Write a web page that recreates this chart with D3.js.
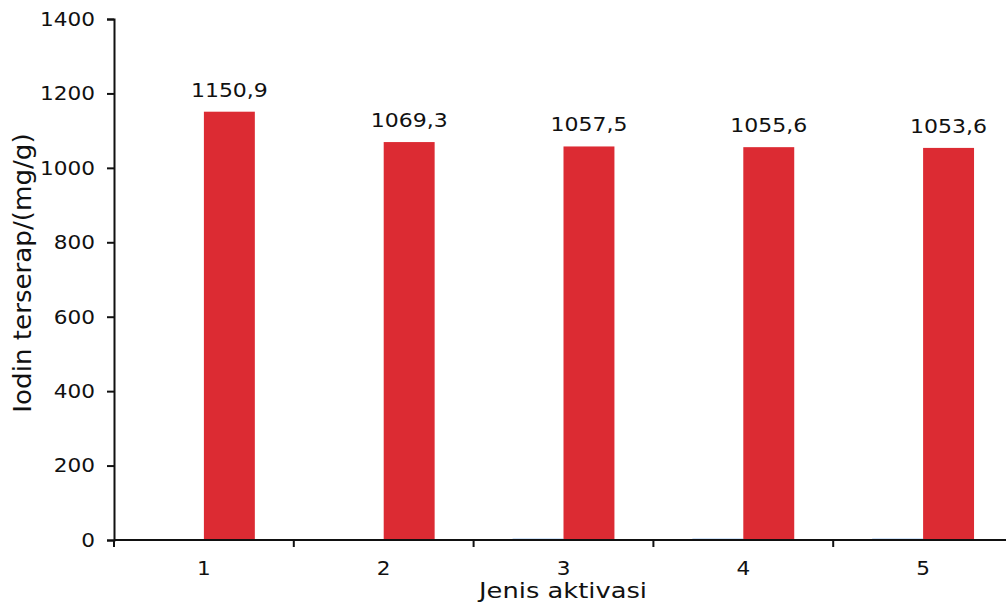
<!DOCTYPE html>
<html>
<head>
<meta charset="utf-8">
<script src="https://cdn.jsdelivr.net/npm/d3@7/dist/d3.min.js"></script>
<style>
  html, body { margin: 0; padding: 0; background: #fff; }
  svg { display: block; }
  text { font-family: "DejaVu Sans", Verdana, sans-serif; fill: #111; }
</style>
</head>
<body>
<svg id="chart" width="1006" height="605"></svg>
<script>
// Iodine adsorption per activation type
const categories = ["1", "2", "3", "4", "5"];
const seriesNames = ["awal", "terserap"];
const seriesA = [0, 0, 4, 4, 4];               // small companion series (near zero)
const seriesB = [1150.9, 1069.3, 1057.5, 1055.6, 1053.6];
const valueLabels = ["1150,9", "1069,3", "1057,5", "1055,6", "1053,6"];
const yTicks = [0, 200, 400, 600, 800, 1000, 1200, 1400];

const colors = { awal: "#9fc4ee", terserap: "#dc2b33" };

const svg = d3.select("#chart");
const plotLeft = 114, plotTop = 19, plotBottom = 540, plotRight = 1013;

const x = d3.scaleBand().domain(categories).range([plotLeft, plotRight]).padding(0);
const inner = d3.scaleBand().domain(seriesNames).range([0, x.bandwidth()])
  .paddingInner(0).paddingOuter(0.765);
const y = d3.scaleLinear().domain([0, 1400]).range([plotBottom, plotTop]);

const rows = categories.map((c, i) => ({ c, awal: seriesA[i], terserap: seriesB[i], label: valueLabels[i] }));

// wide-set text: place at (px, py) and stretch horizontally
function wideText(sel, px, py, sx) {
  return sel.attr("x", 0).attr("y", 0)
    .attr("transform", (d, i) => `translate(${px(d, i)},${py(d, i)}) scale(${sx},1)`);
}

// bars
const g = svg.append("g");
rows.forEach(r => {
  seriesNames.forEach(s => {
    if (r[s] <= 0) return;
    g.append("rect")
      .attr("x", x(r.c) + inner(s))
      .attr("y", y(r[s]))
      .attr("width", inner.bandwidth())
      .attr("height", y(0) - y(r[s]))
      .attr("fill", colors[s]);
  });
});

// value labels above the red bars
wideText(
  g.selectAll("text.val").data(rows).join("text").attr("class", "val")
    .attr("text-anchor", "middle").attr("font-size", 20).text(d => d.label),
  d => x(d.c) + inner("terserap") + inner.bandwidth() / 2,
  d => y(d.terserap) - 15,
  1.1);

// y axis
const yAxis = svg.append("g").attr("transform", `translate(${plotLeft},0)`)
  .call(d3.axisLeft(y).tickValues(yTicks).tickSize(7).tickPadding(9).tickFormat(d3.format("d")));
yAxis.selectAll("text")
  .attr("font-size", 20).attr("font-family", "DejaVu Sans, Verdana, sans-serif").attr("fill", "#111")
  .attr("x", -19 / 1.08).attr("transform", "scale(1.08,1)");
yAxis.select(".domain").attr("stroke", "#111").attr("stroke-width", 2);
yAxis.selectAll(".tick line").attr("stroke", "#111").attr("stroke-width", 2);

// x axis: line with ticks at category boundaries
const xg = svg.append("g").attr("transform", `translate(0,${plotBottom})`);
xg.append("line").attr("x1", plotLeft).attr("x2", 1006).attr("stroke", "#111").attr("stroke-width", 2);
xg.selectAll("line.tk").data(categories).join("line")
  .attr("class", "tk")
  .attr("x1", d => x(d)).attr("x2", d => x(d))
  .attr("y1", 0).attr("y2", 7)
  .attr("stroke", "#111").attr("stroke-width", 2);
wideText(
  xg.selectAll("text").data(categories).join("text")
    .attr("text-anchor", "middle").attr("font-size", 20).text(d => d),
  d => x(d) + x.bandwidth() / 2,
  () => 35,
  1.08);

// axis titles
svg.append("text")
  .attr("transform", "translate(563,598) scale(1.17,1)")
  .attr("text-anchor", "middle")
  .attr("font-size", 22)
  .text("Jenis aktivasi");

svg.append("text")
  .attr("transform", "translate(31,273) rotate(-90) scale(1.09,1)")
  .attr("text-anchor", "middle")
  .attr("font-size", 24)
  .text("Iodin terserap/(mg/g)");
</script>
</body>
</html>
